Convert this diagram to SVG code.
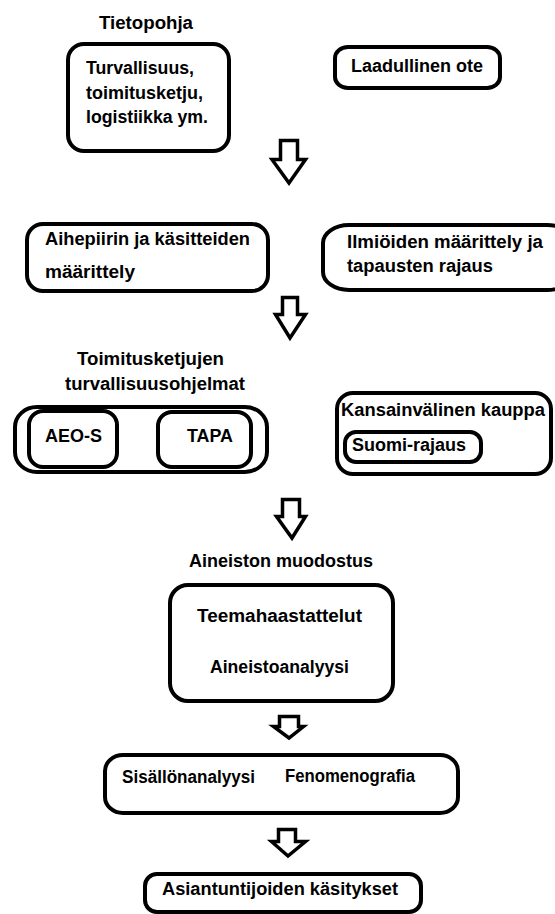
<svg xmlns="http://www.w3.org/2000/svg" width="555" height="914" viewBox="0 0 555 914">
  <style>
    .box { fill: #ffffff; stroke: #000000; stroke-width: 4; }
    .arrow { fill: #ffffff; stroke: #000000; stroke-width: 3.5; stroke-linejoin: miter; }
    text { font-family: "Liberation Sans", Arial, sans-serif; font-weight: bold; font-size: 18px; fill: #000000; }
  </style>
  <rect width="555" height="914" fill="#ffffff"/>

  <!-- Knowledge base -->
  <g id="tietopohja">
    <text x="99" y="29" textLength="94" lengthAdjust="spacingAndGlyphs">Tietopohja</text>
    <rect class="box" x="68" y="44" width="161" height="107" rx="16" ry="16"/>
    <text x="86" y="74" textLength="108" lengthAdjust="spacingAndGlyphs">Turvallisuus,</text>
    <text x="86" y="99" textLength="117" lengthAdjust="spacingAndGlyphs">toimitusketju,</text>
    <text x="86" y="123" textLength="122" lengthAdjust="spacingAndGlyphs">logistiikka ym.</text>
  </g>

  <g id="laadullinen-ote">
    <rect class="box" x="335" y="47" width="165" height="41" rx="13" ry="11"/>
    <text x="351" y="72" textLength="132" lengthAdjust="spacingAndGlyphs">Laadullinen ote</text>
  </g>

  <g id="aihepiiri">
    <rect class="box" x="27" y="224" width="241" height="67" rx="16" ry="16"/>
    <text x="45" y="245" textLength="205" lengthAdjust="spacingAndGlyphs">Aihepiirin ja käsitteiden</text>
    <text x="45" y="278" textLength="90" lengthAdjust="spacingAndGlyphs">määrittely</text>
  </g>

  <g id="ilmiot">
    <rect class="box" x="323" y="225" width="250" height="65" rx="26" ry="18"/>
    <text x="347" y="248" textLength="196" lengthAdjust="spacingAndGlyphs">Ilmiöiden määrittely ja</text>
    <text x="347" y="272" textLength="146" lengthAdjust="spacingAndGlyphs">tapausten rajaus</text>
  </g>

  <!-- Supply chain security programmes -->
  <g id="turvallisuusohjelmat">
    <text x="77" y="365" textLength="147" lengthAdjust="spacingAndGlyphs">Toimitusketjujen</text>
    <text x="65" y="390" textLength="180" lengthAdjust="spacingAndGlyphs">turvallisuusohjelmat</text>
    <rect class="box" x="15" y="407" width="252" height="65" rx="22" ry="20"/>
    <g id="aeo-s">
      <rect class="box" x="29" y="411" width="88" height="56" rx="14" ry="14"/>
      <text x="45" y="442" textLength="57" lengthAdjust="spacingAndGlyphs">AEO-S</text>
    </g>
    <g id="tapa">
      <rect class="box" x="158" y="412" width="93" height="55" rx="14" ry="14"/>
      <text x="187" y="442" textLength="46" lengthAdjust="spacingAndGlyphs">TAPA</text>
    </g>
  </g>

  <g id="kansainvalinen-kauppa">
    <rect class="box" x="337" y="393" width="214" height="81" rx="16" ry="16"/>
    <text x="341" y="416" textLength="204" lengthAdjust="spacingAndGlyphs">Kansainvälinen kauppa</text>
    <g id="suomi-rajaus">
      <rect class="box" x="345" y="432" width="136" height="30" rx="11" ry="11"/>
      <text x="352" y="451" textLength="114" lengthAdjust="spacingAndGlyphs">Suomi-rajaus</text>
    </g>
  </g>

  <!-- Data collection -->
  <g id="aineiston-muodostus">
    <text x="189" y="567" textLength="184" lengthAdjust="spacingAndGlyphs">Aineiston muodostus</text>
    <rect class="box" x="170" y="585" width="223" height="116" rx="18" ry="18"/>
    <text x="197" y="622" textLength="165" lengthAdjust="spacingAndGlyphs">Teemahaastattelut</text>
    <text x="210" y="673" textLength="139" lengthAdjust="spacingAndGlyphs">Aineistoanalyysi</text>
  </g>

  <g id="analyysi">
    <rect class="box" x="105" y="755" width="353" height="58" rx="18" ry="16"/>
    <text x="122" y="783" textLength="133" lengthAdjust="spacingAndGlyphs">Sisällönanalyysi</text>
    <text x="285" y="782" textLength="130" lengthAdjust="spacingAndGlyphs">Fenomenografia</text>
  </g>

  <g id="asiantuntijat">
    <rect class="box" x="145" y="874" width="276" height="38" rx="12" ry="12"/>
    <text x="162" y="895" textLength="236" lengthAdjust="spacingAndGlyphs">Asiantuntijoiden käsitykset</text>
  </g>

  <!-- Flow arrows -->
  <g id="connectors">
    <path class="arrow" d="M280.5 140.5 H297.5 V159.5 H305.5 L289 183 L272 159.5 H280.5 Z"/>
    <path class="arrow" d="M282.5 297.5 H297.5 V314.5 H305.5 L290 338 L275.5 314.5 H282.5 Z"/>
    <path class="arrow" d="M282.5 499.5 H299.5 V516.5 H305.5 L292 538 L276.5 516.5 H282.5 Z"/>
    <path class="arrow" d="M279.5 716.5 H298.5 V726.5 H303.5 L289 738 L273.5 726.5 H279.5 Z"/>
    <path class="arrow" d="M278.5 829.5 H295.5 V841.5 H305.5 L288 856 L271.5 841.5 H278.5 Z"/>
  </g>
</svg>
